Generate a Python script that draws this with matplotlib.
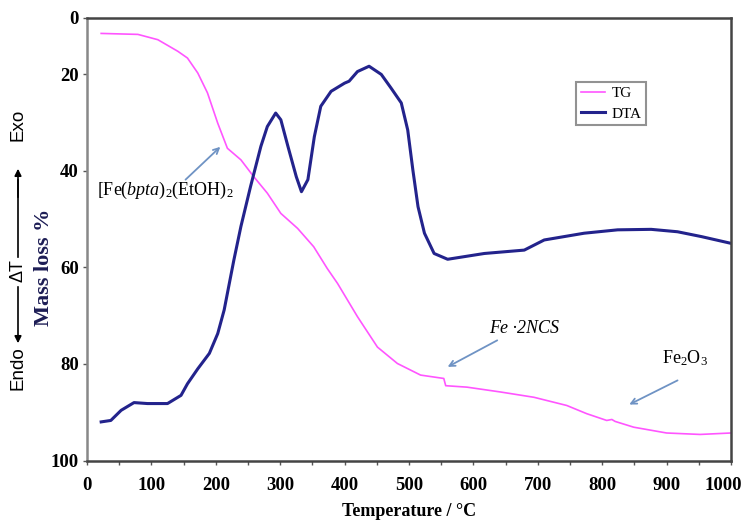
import matplotlib.pyplot as plt
from matplotlib.patches import FancyArrowPatch
from matplotlib.transforms import ScaledTranslation

plt.rcParams['mathtext.fontset'] = 'custom'
plt.rcParams['mathtext.rm'] = 'Liberation Serif'
plt.rcParams['mathtext.it'] = 'Liberation Serif:italic'

# TG curve (mass loss %)
tg_temp = [22, 50, 79, 110, 141, 156, 172, 187, 203, 218, 239, 259, 280, 301, 327,
           352, 373, 389, 420, 451, 482, 518, 554, 557, 590, 642, 694, 745, 776,
           807, 815, 820, 849, 900, 952, 1000]
tg_mass = [11.5, 11.6, 11.7, 12.8, 15.2, 16.6, 19.7, 23.8, 30.1, 35.3, 37.7, 41.2,
           44.6, 48.8, 51.9, 55.7, 60.2, 63.3, 70.2, 76.5, 79.9, 82.3, 83.0, 84.5,
           84.8, 85.8, 86.9, 88.6, 90.3, 91.7, 91.5, 91.9, 93.1, 94.3, 94.6, 94.3]

# DTA curve, plotted on the same scale
dta_temp = [22, 37, 53, 73, 94, 125, 146, 156, 172, 190, 203, 213, 221, 228, 239,
            254, 270, 280, 293, 301, 312, 325, 333, 343, 353, 363, 379, 400, 407,
            420, 438, 457, 472, 488, 498, 506, 514, 524, 539, 560, 617, 679, 710,
            772, 824, 876, 917, 954, 1000]
dta_val = [92.0, 91.7, 89.6, 88.0, 88.2, 88.2, 86.5, 84.1, 81.0, 77.8, 73.7, 68.8,
           63.3, 58.5, 51.5, 43.2, 34.9, 30.8, 28.0, 29.4, 34.9, 41.2, 44.3, 41.8,
           32.9, 26.6, 23.5, 21.8, 21.4, 19.4, 18.3, 20.0, 22.8, 25.9, 31.5, 39.8,
           47.4, 52.9, 57.1, 58.3, 57.1, 56.4, 54.3, 52.9, 52.2, 52.1, 52.6, 53.6, 55.0]

x_ticks = list(range(0, 1001, 100))
y_ticks = [8.2, 20, 40, 60, 80, 100]
y_tick_labels = ['0', '20', '40', '60', '80', '100']

serif = ['Liberation Serif', 'DejaVu Serif']
sans = ['Liberation Sans', 'DejaVu Sans']
arrow_col = '#6f93c4'

fig = plt.figure(figsize=(7.43, 5.22), dpi=100)
ax = fig.add_axes([87 / 743, 1 - 460.5 / 522, (731 - 87) / 743, (460.5 - 17.5) / 522])

ax.plot(tg_temp, tg_mass, color='#ff55ff', lw=1.2, label='TG')
ax.plot(dta_temp, dta_val, color='#23238c', lw=2.2, label='DTA')

ax.set_xlim(0, 1000)
ax.set_ylim(100, 8.2)
ax.set_xticks(x_ticks)
ax.set_xticks(range(50, 1000, 100), minor=True)
ax.set_yticks(y_ticks)
ax.set_yticklabels(y_tick_labels)
for lab in ax.get_xticklabels() + ax.get_yticklabels():
    lab.set_family(serif)
    lab.set_fontweight('bold')
    lab.set_fontsize(13.5)
ax.tick_params(axis='x', which='both', direction='out', length=3, width=1, color='#555555', pad=9)
ax.tick_params(axis='y', direction='out', length=3, width=1, color='#555555', pad=3)

# last x label sits a bit left of its tick, as in the original
last = ax.xaxis.get_major_ticks()[-1].label1
last.set_transform(last.get_transform() + ScaledTranslation(-0.08, 0, fig.dpi_scale_trans))

for side in ['top', 'right', 'bottom']:
    ax.spines[side].set_color('#444444')
    ax.spines[side].set_linewidth(1.8)
ax.spines['left'].set_color('#888888')
ax.spines['left'].set_linewidth(1.8)

ax.set_xlabel('Temperature / \u00b0C', family=serif, fontweight='bold', fontsize=13, labelpad=6)
ax.set_ylabel('Mass loss %', family=serif, fontweight='bold', fontsize=16,
              color='#1d1d55')
ax.yaxis.set_label_coords(-0.052, 0.435)

leg = ax.legend(loc='upper left', bbox_to_anchor=(0.760, 0.855), prop={'family': serif, 'size': 11},
                frameon=True, fancybox=False, shadow=False, handlelength=1.55,
                borderpad=0.3, labelspacing=0.45, handletextpad=0.45, borderaxespad=0)
leg.get_frame().set_edgecolor('#777777')
leg.get_frame().set_linewidth(1.5)

# annotations
ax.text(15, 44.0, '[Fe($\\it{bpta}$)$_2$(EtOH)$_2$', fontsize=13, family=serif, va='center', ha='left')
ax.annotate('', xy=(207, 35.0), xytext=(153, 41.8),
            arrowprops=dict(arrowstyle='->', color=arrow_col, lw=1.3, shrinkA=0, shrinkB=0))

ax.text(679, 72.6, 'Fe \u00b72NCS', fontsize=13, family=serif, style='italic', ha='center', va='center')
ax.annotate('', xy=(560, 80.6), xytext=(637, 75.1),
            arrowprops=dict(arrowstyle='->', color=arrow_col, lw=1.3, shrinkA=0, shrinkB=0))

ax.text(929, 78.8, 'Fe$_2$O$_3$', fontsize=13, family=serif, ha='center', va='center')
ax.annotate('', xy=(842, 88.4), xytext=(917, 83.4),
            arrowprops=dict(arrowstyle='->', color=arrow_col, lw=1.3, shrinkA=0, shrinkB=0))

# Exo / Endo marker on the far left
xf = 18 / 743
fig.text(xf, 1 - 125 / 522, 'Exo', rotation=90, family=sans, fontsize=13.5, ha='center', va='center')
fig.text(xf, 1 - 271 / 522, '\u0394T', rotation=90, family=sans, fontsize=13, ha='center', va='center')
fig.text(xf, 1 - 368 / 522, 'Endo', rotation=90, family=sans, fontsize=13.5, ha='center', va='center')
fig.add_artist(plt.Line2D([xf, xf], [1 - 257 / 522, 1 - 180 / 522], color='black',
                          lw=1.2, transform=fig.transFigure))
fig.patches.append(FancyArrowPatch((xf, 1 - 200 / 522), (xf, 1 - 166 / 522), transform=fig.transFigure,
                                   arrowstyle='-|>', mutation_scale=10, color='black', lw=1.2))
fig.patches.append(FancyArrowPatch((xf, 1 - 284 / 522), (xf, 1 - 346 / 522), transform=fig.transFigure,
                                   arrowstyle='-|>', mutation_scale=10, color='black', lw=1.2))

fig.savefig('out.png', dpi=100, facecolor='white')
